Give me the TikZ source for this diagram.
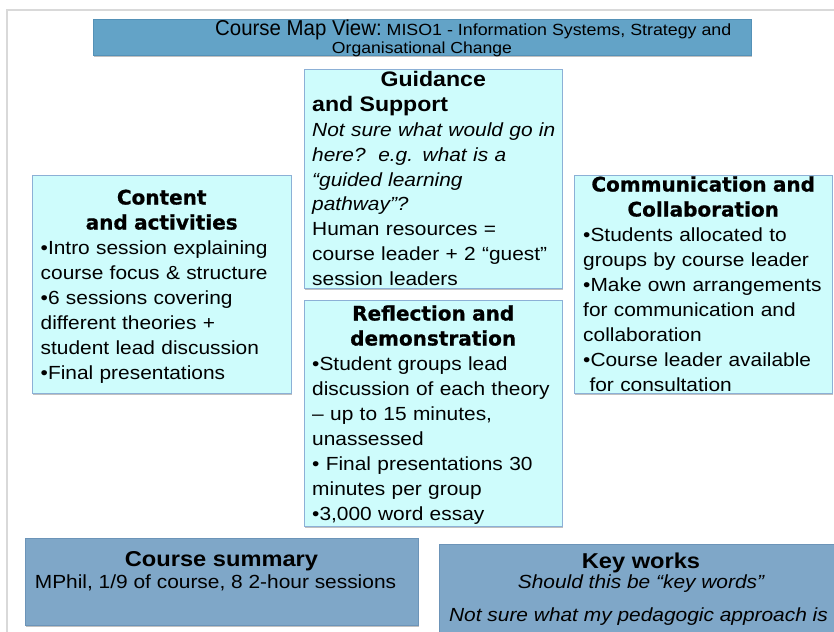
\documentclass[tikz,border=0pt]{standalone}
\usepackage{fontspec}
\setmainfont{Liberation Sans}
\newfontfamily\bodyf[FakeStretch=1.1]{Liberation Sans}
\newfontfamily\headf[BoldFeatures={FakeBold=0.8}]{DejaVu Sans}
\newfontfamily\titlef[FakeStretch=0.95]{Liberation Sans}
\usetikzlibrary{shadows}
\definecolor{titlefill}{RGB}{99,163,199}
\definecolor{titledraw}{RGB}{84,145,183}
\definecolor{cyanfill}{RGB}{206,252,252}
\definecolor{cyandraw}{RGB}{140,176,214}
\definecolor{darkfill}{RGB}{127,167,200}
\definecolor{darkdraw}{RGB}{108,148,184}
\definecolor{framegrey}{RGB}{217,217,217}
\newcommand\bline[1]{\mbox{#1}\\}
\begin{document}
\begin{tikzpicture}[x=1pt,y=-1pt,
  shadowed/.style={drop shadow={opacity=0.35,shadow xshift=0.6pt,shadow yshift=-1.8pt,fill=black!70}},
  titlebox/.style={draw=titledraw,fill=titlefill,line width=1pt,shadowed,inner sep=0pt,anchor=north west},
  lightbox/.style={draw=cyandraw,fill=cyanfill,line width=1.2pt,shadowed,inner sep=0pt,anchor=north west},
  darkbox/.style={draw=darkdraw,fill=darkfill,line width=1pt,shadowed,inner sep=0pt,anchor=north west},
  boxtext/.style={anchor=base west,inner sep=0pt,text width=#1,font=\bodyf\fontsize{19}{25}\selectfont},
  linetext/.style={anchor=base,inner sep=0pt,font=\bodyf\fontsize{19}{25}\selectfont},
  linehead/.style={anchor=base,inner sep=0pt,font=\bodyf\bfseries\fontsize{21.5}{25}\selectfont}
]
\useasboundingbox (0,0) rectangle (834,631);
\clip (0,0) rectangle (834,631);
\fill[white] (0,0) rectangle (834,631);
% outer frame
\draw[framegrey,line width=2pt] (6.5,700) -- (6.5,10.5) -- (900,10.5);

% title
\node[titlebox,minimum width=658pt,minimum height=36pt] (title) at (93,19) {};
\node[anchor=base west,inner sep=0pt] (title1) at (215,35.5)
  {{\titlef\fontsize{21.5}{24}\selectfont Course Map View:}{\bodyf\fontsize{16.2}{20}\selectfont\ MISO1 - Information Systems, Strategy and}};
\node[anchor=base,inner sep=0pt,font=\bodyf\fontsize{16}{20}\selectfont] (title2) at (422,54) {Organisational Change};

% guidance and support
\node[lightbox,minimum width=258pt,minimum height=219pt] (guide) at (304,69) {};
\node[boxtext=242pt] (guidet) at (312,87) {%
  {\centering\bfseries\fontsize{21}{24.8}\selectfont Guidance\par}%
  {\bfseries\fontsize{21}{24.8}\selectfont and Support\par}%
  \fontsize{19}{24.8}\selectfont
  \bline{\itshape Not sure what would go in}%
  \bline{\itshape here?\ \ e.g. what is a}%
  \bline{\itshape “guided learning}%
  \bline{\itshape pathway”?}%
  \bline{Human resources =}%
  \bline{course leader + 2 “guest”}%
  \mbox{session leaders}};

% content and activities
\node[lightbox,minimum width=259pt,minimum height=218pt] (content) at (32,175) {};
\node[boxtext=242pt] (contentt) at (40.5,204.5) {%
  {\centering\headf\bfseries\fontsize{20}{25}\selectfont Content\\and activities\par}%
  \bline{•Intro session explaining}%
  \bline{course focus \& structure}%
  \bline{•6 sessions covering}%
  \bline{different theories +}%
  \bline{student lead discussion}%
  \mbox{•Final presentations}};

% communication and collaboration
\node[lightbox,minimum width=258pt,minimum height=218pt] (comm) at (574,175) {};
\node[boxtext=240pt] (commt) at (583,191.5) {%
  {\centering\headf\bfseries\fontsize{20}{25}\selectfont Communication and\\Collaboration\par}%
  \bline{•Students allocated to}%
  \bline{groups by course leader}%
  \bline{•Make own arrangements}%
  \bline{for communication and}%
  \bline{collaboration}%
  \bline{•Course leader available}%
  \mbox{\ for consultation}};

% reflection and demonstration
\node[lightbox,minimum width=258pt,minimum height=226pt] (refl) at (304,300) {};
\node[boxtext=242pt] (reflt) at (312,320.5) {%
  {\centering\headf\bfseries\fontsize{20}{25}\selectfont Reflection and\\demonstration\par}%
  \bline{•Student groups lead}%
  \bline{discussion of each theory}%
  \bline{– up to 15 minutes,}%
  \bline{unassessed}%
  \bline{• Final presentations 30}%
  \bline{minutes per group}%
  \mbox{•3,000 word essay}};

% course summary
\node[darkbox,minimum width=393pt,minimum height=87pt] (summary) at (25,538) {};
\node[linehead] (summaryh) at (221.5,566.5) {Course summary};
\node[linetext] (summaryt) at (215.5,588.5) {MPhil, 1/9 of course, 8 2-hour sessions};

% key works
\node[darkbox,minimum width=410pt,minimum height=100pt] (keyworks) at (439,544) {};
\node[linehead] (keyh) at (641,568) {Key works};
\node[linetext] (keyt1) at (641,588.5) {\itshape Should this be “key words”};
\node[linetext] (keyt2) at (638.5,621) {\itshape Not sure what my pedagogic approach is};
\end{tikzpicture}
\end{document}
